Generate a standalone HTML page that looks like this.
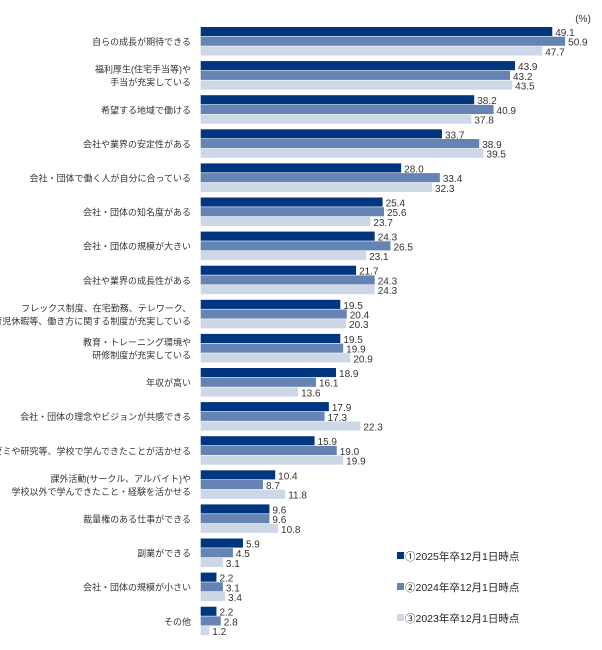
<!DOCTYPE html>
<html><head><meta charset="utf-8"><style>
body{margin:0;background:#fff;}
svg text{font-family:"Liberation Sans","Noto Sans CJK JP",sans-serif;}
</style></head><body>
<svg id="chart" width="602" height="645" xmlns="http://www.w3.org/2000/svg">
<text x="583" y="22" font-size="10" fill="#333" text-anchor="middle">(%)</text>
<g id="bars"></g>
<g id="legend"></g>
</svg>
<script>
const categories=[["自らの成長が期待できる"],["福利厚生(住宅手当等)や","手当が充実している"],["希望する地域で働ける"],["会社や業界の安定性がある"],["会社・団体で働く人が自分に合っている"],["会社・団体の知名度がある"],["会社・団体の規模が大きい"],["会社や業界の成長性がある"],["フレックス制度、在宅勤務、テレワーク、","育児休暇等、働き方に関する制度が充実している"],["教育・トレーニング環境や","研修制度が充実している"],["年収が高い"],["会社・団体の理念やビジョンが共感できる"],["ゼミや研究等、学校で学んできたことが活かせる"],["課外活動(サークル、アルバイト)や","学校以外で学んできたこと・経験を活かせる"],["裁量権のある仕事ができる"],["副業ができる"],["会社・団体の規模が小さい"],["その他"]];
const s2025=[49.1,43.9,38.2,33.7,28.0,25.4,24.3,21.7,19.5,19.5,18.9,17.9,15.9,10.4,9.6,5.9,2.2,2.2];
const s2024=[50.9,43.2,40.9,38.9,33.4,25.6,26.5,24.3,20.4,19.9,16.1,17.3,19.0,8.7,9.6,4.5,3.1,2.8];
const s2023=[47.7,43.5,37.8,39.5,32.3,23.7,23.1,24.3,20.3,20.9,13.6,22.3,19.9,11.8,10.8,3.1,3.4,1.2];
const seriesNames=["①2025年卒12月1日時点","②2024年卒12月1日時点","③2023年卒12月1日時点"];
const colors=["#003580","#6584b4","#cdd7e6"];
const series=[s2025,s2024,s2023];
const NS="http://www.w3.org/2000/svg";
const x0=200.7,scale=7.16,y0=27,pitch=34.1,bh=9.7;
const xs=v=>x0+v*scale;
const ys=(i,k)=>y0+i*pitch+k*bh;
const g=document.getElementById('bars');
function el(t,a){const e=document.createElementNS(NS,t);for(const k in a)e.setAttribute(k,a[k]);return e;}
categories.forEach((lines,i)=>{
  const mid=ys(i,0)+bh*1.5;
  const t=el('text',{x:191,'font-size':9,fill:'#333','text-anchor':'end'});
  
  
  lines.forEach((ln,j)=>{
    const ts=el('tspan',{x:191,y:mid+3.5+(j-(lines.length-1)/2)*13});
    ts.textContent=ln;t.appendChild(ts);
  });
  g.appendChild(t);
  series.forEach((s,k)=>{
    const v=s[i];
    const r=el('rect',{x:x0,y:ys(i,k),width:xs(v)-x0,height:bh-0.6,fill:colors[k]});
    
    
    g.appendChild(r);
    const vt=el('text',{x:xs(v)+3,y:ys(i,k)+9,'font-size':10,fill:'#333'});
    
    
    vt.textContent=v.toFixed(1);
    g.appendChild(vt);
  });
});
const lg=document.getElementById('legend');
seriesNames.forEach((n,k)=>{
  const y=556+k*31;
  const r=el('rect',{x:397,y:y-4,width:7,height:7,fill:colors[k]});
  
  
  lg.appendChild(r);
  const t=el('text',{x:405,y:y+4,'font-size':10.5,fill:'#222'});
  
  
  t.textContent=n;lg.appendChild(t);
});
</script>
</body></html>
